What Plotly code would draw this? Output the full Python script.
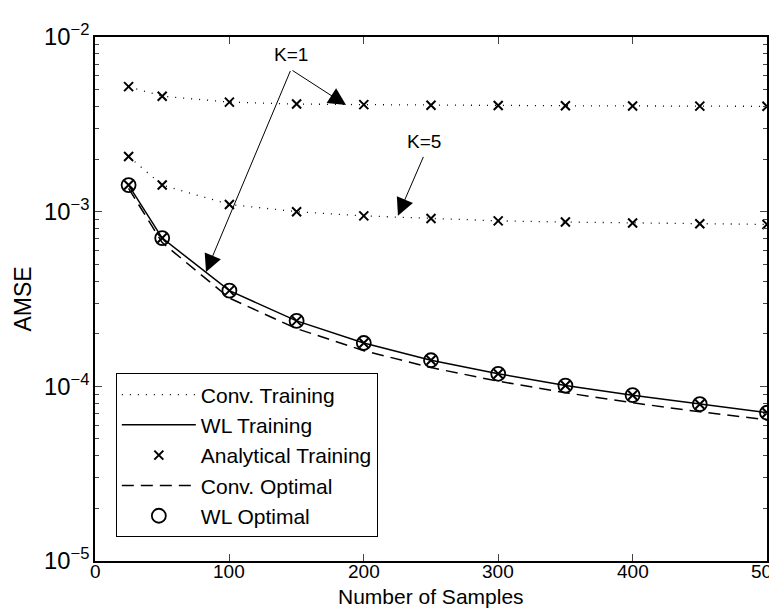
import numpy as np
import plotly.graph_objects as go

samples = [25, 50, 100, 150, 200, 250, 300, 350, 400, 450, 500]
conv_train_k1 = [5.2e-3, 4.58e-3, 4.24e-3, 4.13e-3, 4.10e-3, 4.07e-3, 4.05e-3, 4.04e-3, 4.03e-3, 4.02e-3, 4.01e-3]
conv_train_k5 = [2.07e-3, 1.42e-3, 1.10e-3, 1.0e-3, 0.946e-3, 0.913e-3, 0.886e-3, 0.872e-3, 0.862e-3, 0.853e-3, 0.845e-3]
wl_train = [1.42e-3, 7.06e-4, 3.53e-4, 2.37e-4, 1.77e-4, 1.41e-4, 1.18e-4, 1.01e-4, 8.9e-5, 7.9e-5, 7.06e-5]
analytical_k1 = conv_train_k1
analytical_k5 = conv_train_k5
analytical_wl = wl_train
conv_opt = [1.36e-3, 6.65e-4, 3.2e-4, 2.14e-4, 1.6e-4, 1.28e-4, 1.07e-4, 9.2e-5, 8.05e-5, 7.15e-5, 6.43e-5]
wl_opt = wl_train
xtick_vals = [0, 100, 200, 300, 400, 500]

FONT = "Liberation Sans, Arial, sans-serif"
fig = go.Figure()

dot = "1px,7px"
fig.add_trace(go.Scatter(x=samples, y=conv_train_k1, mode="lines", name="Conv. Training",
                         line=dict(color="black", width=1.3, dash=dot)))
fig.add_trace(go.Scatter(x=samples, y=conv_train_k5, mode="lines", showlegend=False,
                         line=dict(color="black", width=1.3, dash=dot)))
fig.add_trace(go.Scatter(x=samples, y=wl_train, mode="lines", name="WL Training",
                         line=dict(color="black", width=1.5)))
xmark = dict(symbol="x-thin", size=9, color="black", line=dict(width=2, color="black"))
fig.add_trace(go.Scatter(x=samples + samples + samples,
                         y=analytical_k1 + analytical_k5 + analytical_wl,
                         mode="markers", name="Analytical Training", marker=xmark))
fig.add_trace(go.Scatter(x=samples, y=conv_opt, mode="lines", name="Conv. Optimal",
                         line=dict(color="black", width=1.5, dash="12px,7px")))
fig.add_trace(go.Scatter(x=samples, y=wl_opt, mode="markers", name="WL Optimal",
                         marker=dict(symbol="circle-open", size=14, color="black",
                                     line=dict(width=1.8, color="black"))))

arrow = dict(showarrow=True, arrowhead=2, arrowsize=3.5, arrowwidth=1, arrowcolor="black",
             axref="x", ayref="y", xref="x", yref="y", text="")
ann = [dict(x=145.8, y=-2.102, xref="x", yref="y", text="K=1", showarrow=False),
       dict(x=186.8, y=-2.390, ax=145.8, ay=-2.186, **arrow),
       dict(x=82.6, y=-3.345, ax=145.8, ay=-2.186, **arrow),
       dict(x=244.8, y=-2.599, xref="x", yref="y", text="K=5", showarrow=False),
       dict(x=225.4, y=-3.023, ax=244.8, ay=-2.678, **arrow),
       dict(x=0.5, y=-0.068, xref="paper", yref="paper", text="Number of Samples",
            showarrow=False, yanchor="middle", font=dict(size=21))]
# x tick labels drawn as text so they sit close to the axis like the original
for v in xtick_vals:
    ann.append(dict(x=v, y=-0.02, xref="x", yref="paper", text=str(v),
                    showarrow=False, yanchor="middle", font=dict(size=19)))

fig.update_layout(
    width=777, height=610,
    margin=dict(l=87, r=18, t=22, b=57),
    paper_bgcolor="white", plot_bgcolor="white",
    font=dict(family=FONT, size=19, color="black"),
    annotations=ann,
    legend=dict(x=0.031, y=0.358, xanchor="left", yanchor="top",
                bordercolor="black", borderwidth=1, bgcolor="white",
                itemwidth=74, font=dict(size=21), tracegroupgap=0),
    xaxis=dict(range=[0, 500], tickvals=xtick_vals, showticklabels=False,
               ticks="inside", ticklen=7, showline=True, linecolor="black",
               linewidth=1.5, mirror="allticks", showgrid=False, zeroline=False),
    yaxis=dict(type="log", range=[-5, -2], dtick=1, exponentformat="power",
               ticks="inside", ticklen=7, showline=True, linecolor="black",
               linewidth=1.5, mirror="allticks", showgrid=False, zeroline=False,
               minor=dict(dtick="D1", ticks="inside", ticklen=4, showgrid=False),
               title=dict(text="AMSE", standoff=6)),
)

fig.write_html("out.html")
